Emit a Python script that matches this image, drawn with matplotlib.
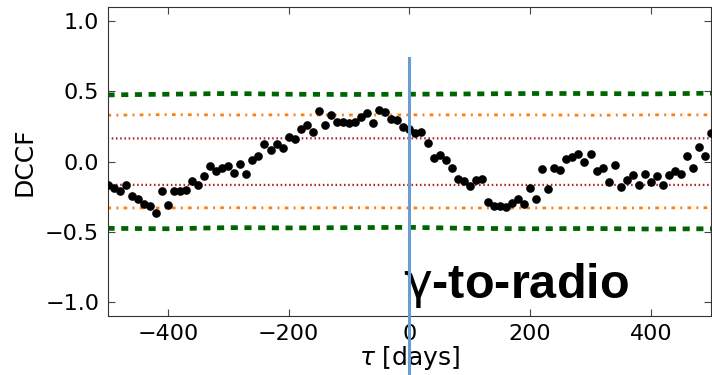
import matplotlib
matplotlib.use("Agg")
import matplotlib.pyplot as plt
import numpy as np

# DCCF points (lag step 10 days)
tau = list(range(-500, 510, 10))
dccf = [
    -0.169, -0.188, -0.206, -0.164, -0.244, -0.263, -0.305, -0.319, -0.366, -0.206,
    -0.310, -0.206, -0.206, -0.202, -0.141, -0.164, -0.099, -0.028, -0.070, -0.042,
    -0.033, -0.080, -0.014, -0.085, 0.014, 0.037, 0.122, 0.085, 0.127, 0.099,
    0.174, 0.160, 0.230, 0.263, 0.211, 0.361, 0.263, 0.333, 0.282, 0.282,
    0.277, 0.282, 0.315, 0.343, 0.273, 0.366, 0.352, 0.305, 0.296, 0.244,
    0.235, 0.206, 0.211, 0.136, 0.028, 0.047, 0.009, -0.042, -0.122, -0.136,
    -0.174, -0.132, -0.127, -0.286, -0.315, -0.319, -0.324, -0.296, -0.263, -0.301,
    -0.188, -0.263, -0.056, -0.197, -0.042, -0.061, 0.019, 0.033, 0.051, -0.005,
    0.056, -0.070, -0.042, -0.146, -0.023, -0.178, -0.132, -0.094, -0.164, -0.089,
    -0.146, -0.099, -0.164, -0.094, -0.070, -0.085, 0.037, -0.042, 0.104, 0.037,
    0.202,
]

# significance levels, read every 100 days
sig_tau = [-500, -400, -300, -200, -100, 0, 100, 200, 300, 400, 500]
sig99_up = [0.475, 0.480, 0.485, 0.480, 0.478, 0.480, 0.482, 0.485, 0.485, 0.482, 0.487]
sig99_lo = [-0.475, -0.478, -0.470, -0.472, -0.470, -0.468, -0.475, -0.478, -0.476, -0.480, -0.478]
sig95_up = [0.330, 0.335, 0.332, 0.333, 0.332, 0.333, 0.333, 0.333, 0.330, 0.333, 0.333]
sig95_lo = [-0.330, -0.330, -0.328, -0.330, -0.328, -0.330, -0.330, -0.330, -0.330, -0.330, -0.328]
sig68_up = [0.165, 0.165, 0.165, 0.166, 0.166, 0.166, 0.166, 0.166, 0.166, 0.166, 0.166]
sig68_lo = [-0.165, -0.166, -0.166, -0.166, -0.166, -0.166, -0.166, -0.166, -0.166, -0.166, -0.166]

lag_zero = 0
label = r"$\mathrm{\gamma}$-to-radio"

fig = plt.figure(figsize=(7.12, 3.75), dpi=100)
ax = fig.add_axes([0.151, 0.157, 0.848, 0.824])

for y in (sig99_up, sig99_lo):
    ax.plot(sig_tau, y, color="#006400", lw=3.4, dashes=(1.5, 1.4))
for y in (sig95_up, sig95_lo):
    ax.plot(sig_tau, y, color="#ff7f0e", lw=2.0, dashes=(1.3, 1.9, 0.7, 1.9))
for y in (sig68_up, sig68_lo):
    ax.plot(sig_tau, y, color="#b22222", lw=1.6, dashes=(0.7, 1.2))

ax.plot(tau, dccf, "o", color="black", ms=5.2, zorder=3)

# zero-lag marker, running past the axes
ax.plot([lag_zero, lag_zero], [0.74, -1.6], color="#6a9bd1", lw=2.2,
        clip_on=False, zorder=4)

ax.text(-11, -0.97, label, fontsize=35, fontweight="bold",
        family=["Liberation Sans", "DejaVu Sans"], va="baseline", ha="left")

ax.set_xlim(-500, 500)
ax.set_ylim(-1.1, 1.1)
ax.set_xticks([-400, -200, 0, 200, 400])
ax.set_yticks([-1.0, -0.5, 0.0, 0.5, 1.0])
ax.set_yticklabels(["\u22121.0", "\u22120.5", "0.0", "0.5", "1.0"])
ax.tick_params(direction="in", top=True, right=True, labelsize=16,
               length=5, color="#444444", pad=6)
for s in ax.spines.values():
    s.set_color("#333333")
ax.set_xlabel(r"$\tau$ [days]", fontsize=18, labelpad=0)
ax.set_ylabel("DCCF", fontsize=18, labelpad=6)

fig.savefig("out.png", dpi=100)
